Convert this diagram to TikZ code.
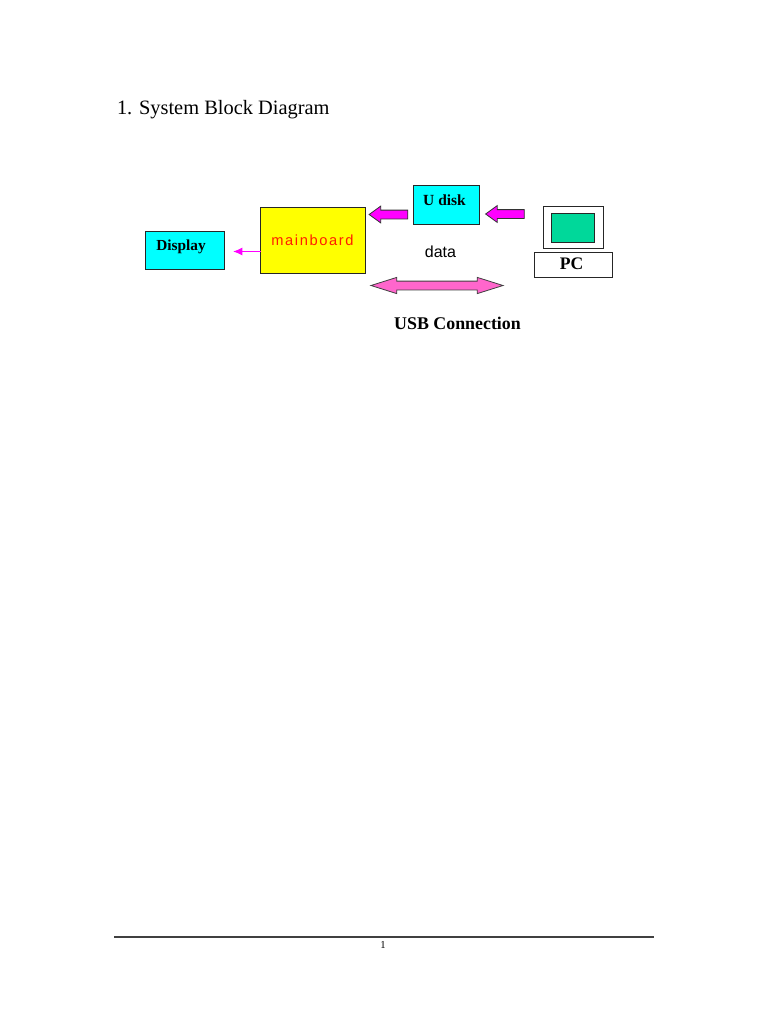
\documentclass[tikz,border=0pt]{standalone}
\usepackage{fontspec}
\setmainfont{Liberation Serif}
\newfontfamily\arialf[LetterSpace=11]{Liberation Sans}
\newfontfamily\arialn{Liberation Sans}
\usetikzlibrary{shapes.arrows,arrows.meta}
\definecolor{cy}{RGB}{0,255,255}
\definecolor{yel}{RGB}{255,255,0}
\definecolor{mag}{RGB}{255,0,255}
\definecolor{hpink}{RGB}{255,102,204}
\definecolor{scr}{RGB}{0,216,154}
\definecolor{mainred}{RGB}{255,30,0}
\tikzset{
 x=0.75pt,y=-0.75pt,
 blockbox/.style={draw=black!85,line width=0.6pt,inner sep=0,outer sep=0},
 lbl/.style={inner sep=0,outer sep=0,text=black},
 leftarrow/.style={single arrow,draw=black!80,fill=mag,line width=0.6pt,inner sep=3pt,outer sep=0,
   minimum height=29pt,minimum width=12pt,single arrow head extend=3pt,single arrow tip angle=72,shape border rotate=180},
}
\begin{document}
\begin{tikzpicture}
\useasboundingbox (0,0) rectangle (768,1024);
\fill[white] (0,0) rectangle (768,1024);
\node[lbl,anchor=west,font=\fontsize{15.3pt}{17pt}\selectfont] (title) at (117,109.5) {1. System Block Diagram};
\node[blockbox,fill=cy,minimum width=59pt,minimum height=29pt] (display) at (185,250.3) {};
\node[blockbox,fill=yel,minimum width=78.4pt,minimum height=50pt] (main) at (312.8,240.3) {};
\node[blockbox,fill=cy,minimum width=49.5pt,minimum height=29.2pt] (udisk) at (446,204.5) {};
\node[blockbox,fill=white,minimum width=45pt,minimum height=32pt] (mon) at (573,227.3) {};
\node[blockbox,fill=scr,minimum width=32.2pt,minimum height=21.4pt] (screen) at (572.5,228) {};
\node[blockbox,fill=white,minimum width=58.2pt,minimum height=18.5pt] (pc) at (573.3,264.8) {};
\node[lbl,font=\bfseries\fontsize{11.5pt}{13pt}\selectfont] (tdisplay) at (181,246.5) {Display};
\node[lbl,font=\arialf\fontsize{11pt}{13pt}\selectfont,text=mainred] (tmain) at (312.5,240.5) {mainboard};
\node[lbl,font=\bfseries\fontsize{11.6pt}{13pt}\selectfont] (tdisk) at (444.5,200.5) {U disk};
\node[lbl,font=\arialn\fontsize{12pt}{14pt}\selectfont] (tdata) at (440.5,252) {data};
\node[lbl,font=\bfseries\fontsize{13.2pt}{15pt}\selectfont] (tpc) at (571.5,264) {PC};
\node[lbl,font=\bfseries\fontsize{13.4pt}{15pt}\selectfont] (tusb) at (457.5,323.5) {USB Connection};
\node[leftarrow] (a1) at (391.5,214.5) {};
\node[leftarrow] (a2) at (508,214) {};
\node[double arrow,draw=black!75,fill=hpink,line width=0.6pt,inner sep=3pt,outer sep=0,
  minimum height=99pt,minimum width=11.5pt,double arrow head extend=2.8pt,double arrow tip angle=35] (a3) at (437,285.5) {};
\coordinate (dtip) at (233,251.5);
\draw[mag,line width=1pt,-{Latex[length=7pt,width=6pt]}] (main.west |- dtip) -- (dtip);
\coordinate (fl) at (114,937); \coordinate (fr) at (654,937);
\draw[black!75,line width=0.9pt] (fl) -- (fr);
\node[lbl,font=\fontsize{8pt}{9pt}\selectfont] (page) at (383,944.5) {1};
\end{tikzpicture}
\end{document}
